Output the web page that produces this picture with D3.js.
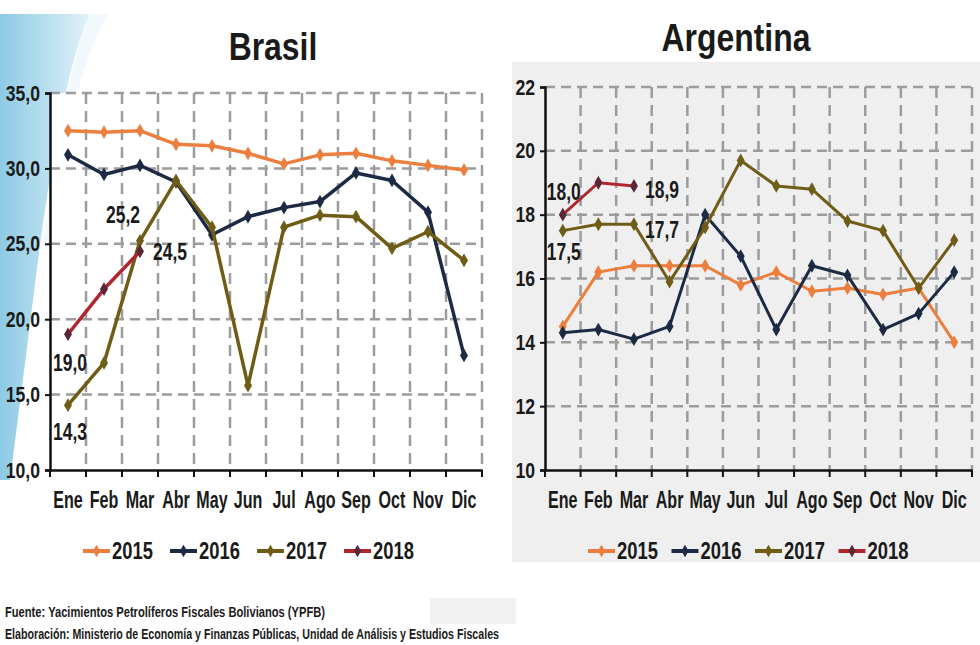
<!DOCTYPE html>
<html>
<head>
<meta charset="utf-8">
<script src="https://cdn.jsdelivr.net/npm/d3@7"></script>
<style>
  body { margin: 0; background: #fff; }
  text { font-family: "Liberation Sans", Arial, sans-serif; fill: #1a1a1a; }
</style>
</head>
<body>
<script>
// DATA
var months = ['Ene', 'Feb', 'Mar', 'Abr', 'May', 'Jun', 'Jul', 'Ago', 'Sep', 'Oct', 'Nov', 'Dic'];
var years = ['2015', '2016', '2017', '2018'];

var brasil2015 = [32.5, 32.4, 32.5, 31.6, 31.5, 31.0, 30.3, 30.9, 31.0, 30.5, 30.2, 29.9];
var brasil2016 = [30.9, 29.6, 30.2, 29.1, 25.6, 26.8, 27.4, 27.8, 29.7, 29.2, 27.1, 17.6];
var brasil2017 = [14.3, 17.1, 25.2, 29.2, 26.1, 15.6, 26.1, 26.9, 26.8, 24.7, 25.8, 23.9];
var brasil2018 = [19.0, 22.0, 24.5];
var brasilTicks = [10, 15, 20, 25, 30, 35];

var arg2015 = [14.5, 16.2, 16.4, 16.4, 16.4, 15.8, 16.2, 15.6, 15.7, 15.5, 15.7, 14.0];
var arg2016 = [14.3, 14.4, 14.1, 14.5, 18.0, 16.7, 14.4, 16.4, 16.1, 14.4, 14.9, 16.2];
var arg2017 = [17.5, 17.7, 17.7, 15.9, 17.6, 19.7, 18.9, 18.8, 17.8, 17.5, 15.7, 17.2];
var arg2018 = [18.0, 19.0, 18.9];
var argTicks = [10, 12, 14, 16, 18, 20, 22];

// which points get a value label: [year index, month index]
var brasilLabels = [[3, 0], [2, 0], [2, 2], [3, 2]];
var argLabels = [[3, 0], [2, 0], [3, 2], [2, 2]];

var footer1 = 'Fuente: Yacimientos Petrolíferos Fiscales Bolivianos (YPFB)';
var footer2 = 'Elaboración: Ministerio de Economía y Finanzas Públicas, Unidad de Análisis y Estudios Fiscales';

// COLOURS
var colors = ['#EC7E3E', '#1D2A43', '#6F5C16', '#B0262E'];

var svg = d3.select('body').append('svg')
  .attr('width', 980)
  .attr('height', 645);

// the source uses a condensed face, so squeeze Liberation Sans sideways
var squeeze = function (sel, sx) {
  sel.each(function () {
    var t = d3.select(this);
    var x = +t.attr('x') || 0;
    var y = +t.attr('y') || 0;
    t.attr('x', 0).attr('y', 0)
      .attr('transform', 'translate(' + x + ',' + y + ') scale(' + sx + ',1)');
  });
};

var defs = svg.append('defs');
var grad = defs.append('linearGradient').attr('id', 'swoosh')
  .attr('x1', 0).attr('x2', 1).attr('y1', 0).attr('y2', 0);
grad.append('stop').attr('offset', 0).attr('stop-color', '#8DCAE4');
grad.append('stop').attr('offset', 1).attr('stop-color', '#E2F2F9');

// light blue swoosh at the left edge of Brasil
svg.append('path')
  .attr('d', 'M0,14 L90,14 C68,60 52,160 38,260 C28,340 18,420 10,480 L0,480 Z')
  .attr('fill', 'url(#swoosh)');
svg.append('path')
  .attr('d', 'M90,14 C70,60 56,150 44,240 L50,240 C62,150 80,60 108,14 Z')
  .attr('fill', '#F2F9FC');

// grey panel behind Argentina
svg.append('rect')
  .attr('x', 512).attr('y', 62)
  .attr('width', 468).attr('height', 500)
  .attr('fill', '#EFEFEF');

var fmt1 = function (v) { return d3.format('.1f')(v).replace('.', ','); };

var drawPanel = function (p) {
  var g = svg.append('g');
  var x = d3.scaleBand().domain(months).range([p.left, p.right]);
  var y = d3.scaleLinear().domain([p.ticks[0], p.ticks[p.ticks.length - 1]]).range([p.bottom, p.top]);

  g.append('rect')
    .attr('x', p.left).attr('y', p.top)
    .attr('width', p.right - p.left).attr('height', p.bottom - p.top)
    .attr('fill', p.plotBg);

  // dashed grid
  g.selectAll('.hgrid').data(p.ticks.slice(1)).enter().append('line')
    .attr('x1', p.left).attr('x2', p.right)
    .attr('y1', function (d) { return y(d); })
    .attr('y2', function (d) { return y(d); })
    .attr('stroke', '#9C9C9C').attr('stroke-width', 2.5)
    .attr('stroke-dasharray', '10,6');
  g.selectAll('.vgrid').data(months).enter().append('line')
    .attr('x1', function (d) { return x(d) + x.bandwidth(); })
    .attr('x2', function (d) { return x(d) + x.bandwidth(); })
    .attr('y1', p.top).attr('y2', p.bottom)
    .attr('stroke', '#9C9C9C').attr('stroke-width', 2.5)
    .attr('stroke-dasharray', '11,7');

  // axes
  var ya = g.append('g').attr('transform', 'translate(' + p.left + ',0)')
    .call(d3.axisLeft(y).tickValues(p.ticks).tickSize(5).tickPadding(5).tickFormat(p.tickFormat));
  ya.select('.domain').attr('stroke', '#111').attr('stroke-width', 2.5);
  ya.selectAll('.tick line').attr('stroke', '#111').attr('stroke-width', 2);
  ya.selectAll('.tick text').attr('font-size', 22).attr('font-weight', 'bold')
    .style('font-family', null).attr('fill', '#222')
    .call(squeeze, 0.8);

  var xa = g.append('g').attr('transform', 'translate(0,' + p.bottom + ')')
    .call(d3.axisBottom(x).tickSize(0).tickPadding(22));
  xa.select('.domain').attr('stroke', '#111').attr('stroke-width', 2.5);
  xa.selectAll('.tick text').attr('font-size', 23).attr('font-weight', 'bold')
    .style('font-family', null).attr('fill', '#222')
    .call(squeeze, 0.7);
  g.selectAll('.xtick').data([''].concat(months)).enter().append('line')
    .attr('x1', function (d, i) { return p.left + i * x.step(); })
    .attr('x2', function (d, i) { return p.left + i * x.step(); })
    .attr('y1', p.bottom).attr('y2', p.bottom + 7)
    .attr('stroke', '#111').attr('stroke-width', 2);

  // series
  var line = d3.line()
    .x(function (d, i) { return x(months[i]) + x.bandwidth() / 2; })
    .y(function (d) { return y(d); });

  p.series.forEach(function (s, k) {
    g.append('path')
      .datum(s)
      .attr('d', line)
      .attr('fill', 'none')
      .attr('stroke', colors[k])
      .attr('stroke-width', p.lineWidth)
      .attr('stroke-linejoin', 'round');
    g.selectAll('.m' + k).data(s).enter().append('path')
      .attr('d', d3.symbol().type(d3.symbolDiamond).size(55))
      .attr('transform', function (d, i) {
        return 'translate(' + (x(months[i]) + x.bandwidth() / 2) + ',' + y(d) + ')';
      })
      .attr('fill', k === 3 ? '#5A2638' : colors[k]);
  });

  // value labels
  p.labels.forEach(function (l, j) {
    var v = p.series[l[0]][l[1]];
    var off = p.labelOffsets[j];
    g.append('text')
      .attr('x', x(months[l[1]]) + x.bandwidth() / 2 + off[0])
      .attr('y', y(v) + off[1])
      .attr('text-anchor', off[2])
      .attr('font-size', 23)
      .attr('font-weight', 'bold')
      .attr('fill', '#111')
      .text(fmt1(v))
      .call(squeeze, 0.76);
  });

  // title
  svg.append('text')
    .attr('x', p.titleX).attr('y', p.titleY)
    .attr('text-anchor', 'middle')
    .attr('font-size', 38)
    .attr('font-weight', 'bold')
    .attr('fill', '#000')
    .text(p.title)
    .call(squeeze, 0.84);

  // legend
  var lg = svg.selectAll('.lg' + p.title).data(years).enter().append('g')
    .attr('transform', function (d, i) { return 'translate(' + (p.legendX + i * p.legendStep) + ',' + p.legendY + ')'; });
  lg.append('line')
    .attr('x1', 0).attr('x2', 27).attr('y1', 0).attr('y2', 0)
    .attr('stroke', function (d, i) { return colors[i]; })
    .attr('stroke-width', 4);
  lg.append('path')
    .attr('d', d3.symbol().type(d3.symbolDiamond).size(45))
    .attr('transform', 'translate(13.5,0)')
    .attr('fill', function (d, i) { return i === 3 ? '#5A2638' : colors[i]; });
  lg.append('text')
    .attr('x', 29).attr('y', 8)
    .attr('font-size', 23)
    .attr('font-weight', 'bold')
    .attr('fill', '#222')
    .text(function (d) { return d; })
    .call(squeeze, 0.8);
};

drawPanel({
  title: 'Brasil', titleX: 273, titleY: 60,
  left: 50, right: 482, top: 93, bottom: 470,
  ticks: brasilTicks, tickFormat: fmt1, plotBg: '#FFFFFF',
  series: [brasil2015, brasil2016, brasil2017, brasil2018],
  lineWidth: 3.5,
  labels: brasilLabels,
  labelOffsets: [[-15, 37, 'start'], [-15, 35, 'start'], [-17, -18, 'middle'], [13, 9, 'start']],
  legendX: 83, legendY: 551, legendStep: 87
});

drawPanel({
  title: 'Argentina', titleX: 736, titleY: 51,
  left: 545, right: 972, top: 87, bottom: 470,
  ticks: argTicks, tickFormat: d3.format('d'), plotBg: '#EFEFEF',
  series: [arg2015, arg2016, arg2017, arg2018],
  lineWidth: 3,
  labels: argLabels,
  labelOffsets: [[-16, -15, 'start'], [-16, 29, 'start'], [11, 12, 'start'], [11, 14, 'start']],
  legendX: 588, legendY: 551, legendStep: 83.5
});

// footer
svg.append('rect')
  .attr('x', 430).attr('y', 598).attr('width', 86).attr('height', 26)
  .attr('fill', '#F1F1F1');
svg.append('text')
  .attr('x', 5).attr('y', 617)
  .attr('font-size', 15).attr('font-weight', 'bold')
  .attr('textLength', 320).attr('lengthAdjust', 'spacingAndGlyphs')
  .text(footer1);
svg.append('text')
  .attr('x', 5).attr('y', 639)
  .attr('font-size', 15).attr('font-weight', 'bold')
  .attr('textLength', 494).attr('lengthAdjust', 'spacingAndGlyphs')
  .text(footer2);
</script>
</body>
</html>
